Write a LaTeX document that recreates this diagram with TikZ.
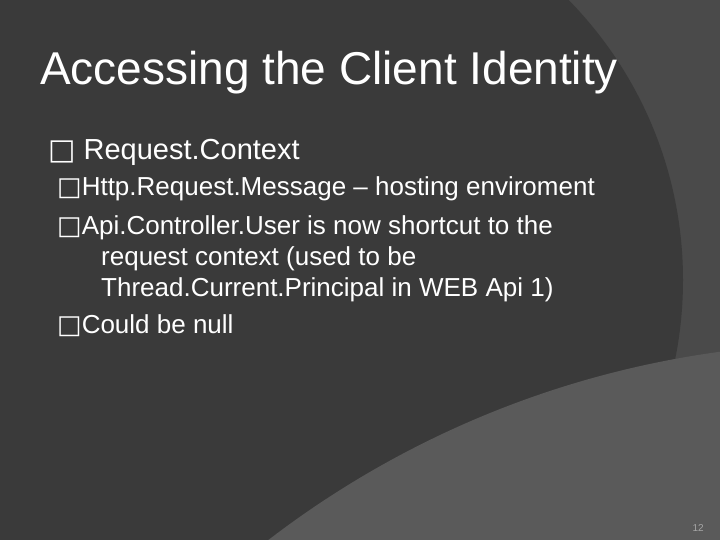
\documentclass[tikz,border=0pt]{standalone}
\usepackage{fontspec}
\setmainfont{Liberation Sans}
\newfontfamily\symfont{DejaVu Sans}
\usepackage{tikz}
\usetikzlibrary{positioning}
\definecolor{bgmid}{HTML}{4A4A4A}
\definecolor{bgdark}{HTML}{3A3A3A}
\definecolor{bglight}{HTML}{5A5A5A}
\newcommand{\boxmark}{{\symfont\char"25A1}}

\begin{document}
\begin{tikzpicture}[x=1pt,y=-1pt,
        title/.style={anchor=base west,text=white,inner sep=0pt,font=\fontsize{46}{50}\selectfont},
        levelone/.style={anchor=base west,text=white,inner sep=0pt,font=\fontsize{29}{32}\selectfont},
        leveltwo/.style={anchor=base west,text=white,inner sep=0pt,font=\fontsize{26}{30}\selectfont},
        pagenum/.style={anchor=base east,text=gray!70,inner sep=0pt,font=\fontsize{10}{11}\selectfont}]
        % background
        \fill[bgmid] (0,0) rectangle (720,540);
        \begin{scope}
            \clip (0,0) rectangle (720,540);
            \fill[bgdark] (283,280) circle (400);
            \fill[bglight] (850,1300) circle (957);
        \end{scope}
        \useasboundingbox (0,0) rectangle (720,540);

        \node[title] (T) at (40,85) {Accessing the Client Identity};
        \node[levelone] (b1) at (48,160) {\boxmark\ Request.Context};
        \node[leveltwo] (s1) at (57,196) {\boxmark Http.Request.Message -- hosting enviroment};
        \node[leveltwo] (s2) at (57,234) {\boxmark Api.Controller.User is now shortcut to the};
        \node[leveltwo] (s2a) at (101,265) {request context (used to be};
        \node[leveltwo] (s2b) at (101,296) {Thread.Current.Principal in WEB Api 1)};
        \node[leveltwo] (s3) at (57,333) {\boxmark Could be null};
        \node[pagenum] (pg) at (704,531) {12};
\end{tikzpicture}
\end{document}
